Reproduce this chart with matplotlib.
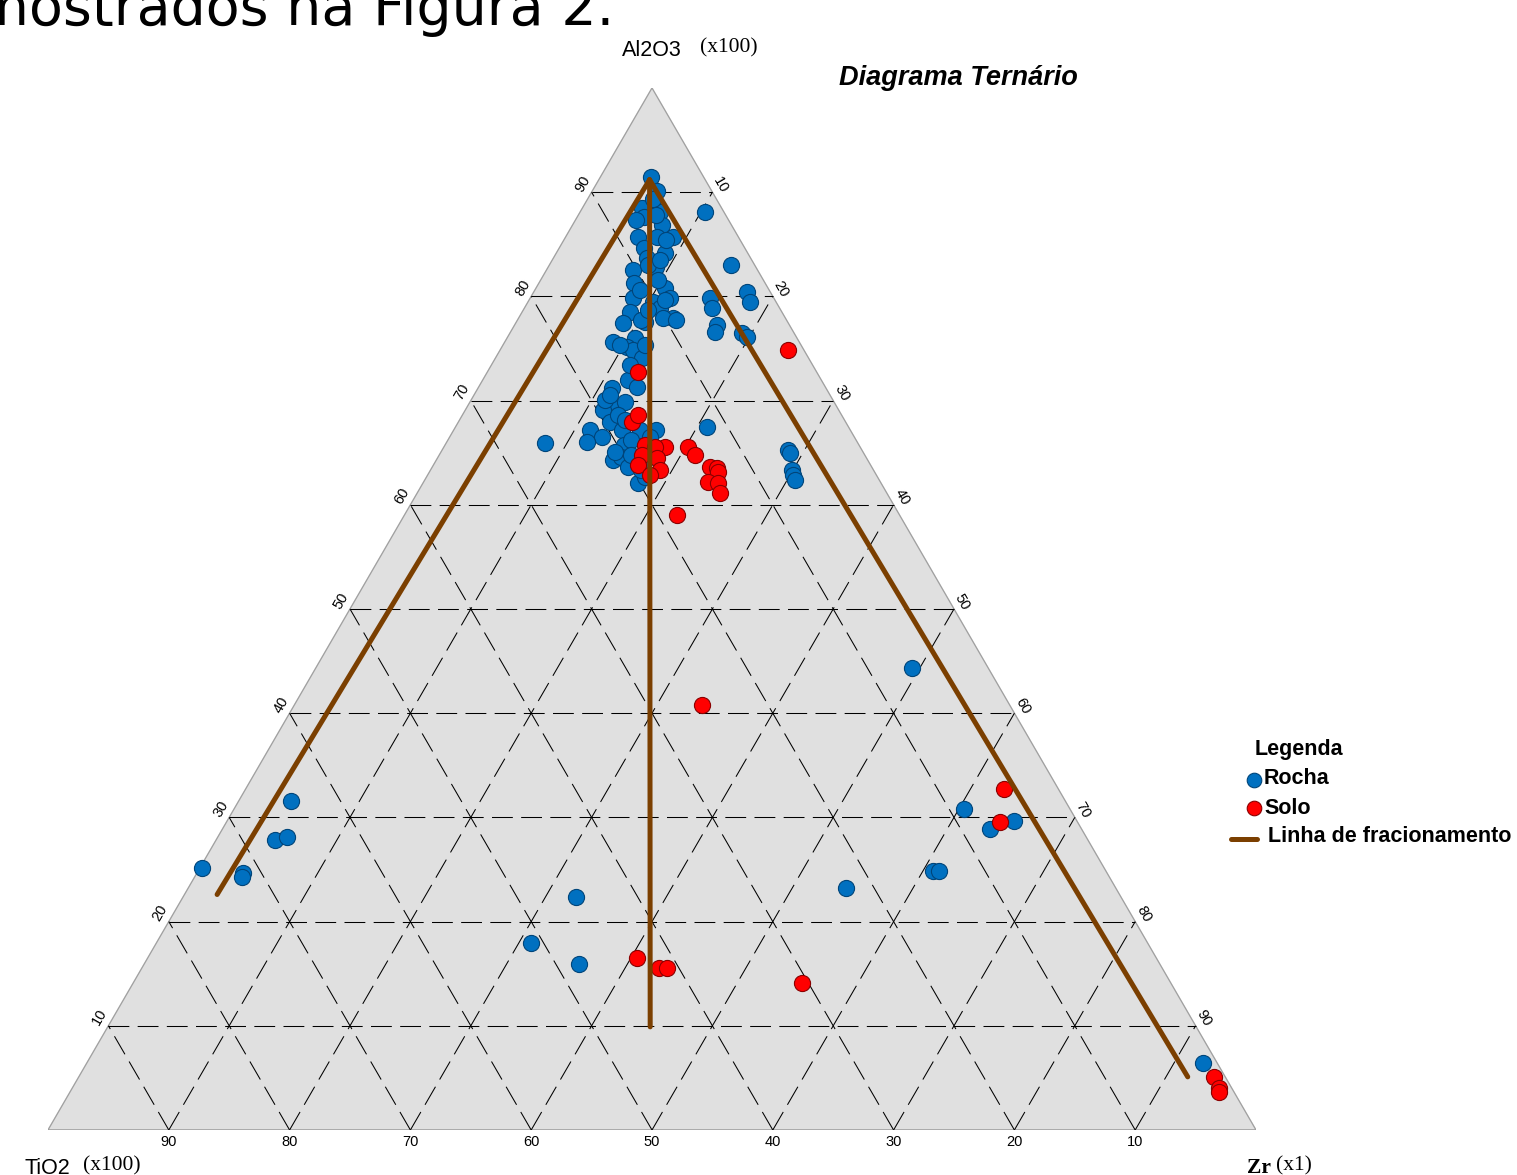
import matplotlib.pyplot as plt
import numpy as np

# Composições (%) lidas no diagrama: Al2O3 e Zr; TiO2 completa 100
rocha_al2o3 = [91.5, 90.1, 88.5, 87.6, 88.1, 86.9, 85.7, 85.7, 85.7, 84.6, 84.2, 83.7, 82.5,
               82.8, 81.3, 80.8, 79.8, 79.8, 79.5, 78.5, 78.9, 77.9, 77.4, 77.5, 77.9, 75.6,
               76.0, 88.1, 83.0, 80.4, 79.5, 79.8, 78.9, 77.3, 76.6, 76.5, 76.1, 75.1, 74.6,
               74.9, 74.1, 72.0, 71.2, 71.3, 69.6, 69.9, 69.1, 67.9, 67.2, 66.5, 66.0, 67.2,
               67.2, 67.2, 66.5, 65.7, 64.3, 64.6, 63.6, 62.1, 62.7, 65.1, 67.5, 65.9, 65.3,
               65.0, 63.3, 62.9, 62.4, 87.3, 85.4, 83.0, 80.6, 79.7, 77.7, 77.7, 75.3, 75.3,
               73.4, 70.1, 68.6, 66.2, 64.8, 63.3, 89.3, 87.8, 83.5, 81.6, 78.7, 70.5, 68.1,
               64.3,
               44.3, 31.6, 27.8, 28.1, 25.1, 24.7, 24.3, 22.4, 17.9, 15.9, 23.2, 30.8, 28.9,
               29.7, 24.9, 24.9, 6.4]
rocha_zr = [4.2, 5.4, 4.9, 5.5, 6.6, 7.4, 6.0, 7.6, 8.9, 7.0, 9.0, 7.7, 7.2,
            8.9, 7.9, 10.7, 8.5, 11.6, 10.3, 8.9, 11.2, 12.8, 8.9, 10.7, 12.0, 9.0,
            10.6, 10.3, 15.0, 17.7, 18.4, 14.9, 15.5, 16.7, 16.9, 19.2, 19.8, 10.4, 11.5,
            11.0, 12.1, 12.0, 11.1, 13.1, 11.7, 12.8, 11.4, 12.6, 11.3, 12.6, 11.6, 13.9,
            15.4, 16.7, 16.6, 14.8, 14.6, 15.1, 16.2, 17.8, 18.1, 14.4, 20.8, 8.2, 28.6,
            28.9, 29.9, 30.2, 30.6, 5.0, 8.5, 8.2, 8.7, 11.2, 13.1, 10.2, 9.7, 11.8,
            11.5, 11.1, 12.9, 15.2, 15.9, 17.4, 5.4, 6.4, 8.9, 9.7, 10.3, 11.3, 13.7,
            17.3,
            49.4, 4.3, 4.9, 5.7, 0.2, 3.8, 3.9, 32.5, 31.0, 36.0, 54.5, 60.4, 63.5,
            65.1, 60.8, 61.3, 92.4]

solo_al2o3 = [72.7, 67.9, 68.6, 65.7, 65.5, 65.5, 64.8, 64.5, 63.8, 63.3, 62.9, 65.5, 64.8,
              63.6, 63.5, 63.1, 62.2, 62.1, 61.1, 59.0, 74.9, 40.8, 16.5, 15.5, 15.5, 14.1,
              32.7, 29.6, 5.1, 4.0, 3.6]
solo_zr = [12.5, 14.4, 14.5, 16.6, 18.3, 17.5, 16.8, 18.2, 16.9, 19.0, 18.4, 20.2, 21.2,
           23.0, 23.6, 23.9, 23.5, 24.4, 25.1, 22.6, 23.8, 33.7, 40.5, 42.8, 43.5, 55.4,
           62.8, 64.0, 94.0, 94.9, 95.1]

# Linhas de fracionamento: origem comum e três extremidades (Al2O3, Zr)
frac_origem = (91.2, 4.2)
frac_fim = [(22.6, 2.7), (9.9, 44.9), (5.1, 91.8)]

niveis = [10, 20, 30, 40, 50, 60, 70, 80, 90]

H = np.sqrt(3) / 2
W_PX, H_PX = 1517, 1175


def tern(al, zr):
    al = np.asarray(al, dtype=float)
    zr = np.asarray(zr, dtype=float)
    return zr / 100 + al / 200, al / 100 * H


def fx(x):
    return x / W_PX


def fy(y):
    return 1 - y / H_PX


fig = plt.figure(figsize=(W_PX / 100, H_PX / 100), dpi=100)
fig.patch.set_facecolor('white')

# triângulo: vértice TiO2 em (48,1130) px, Zr em (1256,1130), Al2O3 em (652,88)
ax = fig.add_axes([fx(48), fy(1130), fx(1256) - fx(48), fy(88) - fy(1130)])
ax.set_xlim(0, 1)
ax.set_ylim(0, H)
ax.axis('off')

ax.fill([0, 1, 0.5], [0, 0, H], color='#e0e0e0', zorder=0)
ax.plot([0, 0.5, 1], [0, H, 0], color='#a0a0a0', lw=0.9, zorder=1)
ax.plot([0, 1], [0, 0], color='#9a9a9a', lw=1.8, zorder=1)

grid_kw = dict(color='black', lw=0.75, dashes=(20, 8), zorder=2)
for k in niveis:
    # Al2O3 constante
    x, y = tern([k, k], [0, 100 - k])
    ax.plot(x, y, **grid_kw)
    # Zr constante
    x, y = tern([0, 100 - k], [k, k])
    ax.plot(x, y, **grid_kw)
    # TiO2 constante
    x, y = tern([0, 100 - k], [100 - k, 0])
    ax.plot(x, y, **grid_kw)

tick_kw = dict(fontsize=10.5, family='Liberation Sans', color='black')
for k in niveis:
    x, y = tern(k, 0)
    ax.text(x - 0.007, y + 0.007, str(k), rotation=60, ha='center', va='center', **tick_kw)
    x, y = tern(100 - k, k)
    ax.text(x + 0.007, y + 0.006, str(k), rotation=-60, ha='center', va='center', **tick_kw)
    x, y = tern(0, 100 - k)
    ax.text(x, y - 0.004, str(k), ha='center', va='top', **tick_kw)

ax.scatter(*tern(rocha_al2o3, rocha_zr), s=135, c='#0070c0', edgecolors='#00457a',
           linewidths=0.8, zorder=3, clip_on=False)
ax.scatter(*tern(solo_al2o3, solo_zr), s=135, c='#ff0000', edgecolors='#8a0000',
           linewidths=0.8, zorder=4, clip_on=False)

for fim in frac_fim:
    x, y = tern([frac_origem[0], fim[0]], [frac_origem[1], fim[1]])
    ax.plot(x, y, color='#7b3f00', lw=3.6, solid_capstyle='round', zorder=5)

# textos em coordenadas de pixel
ov = fig.add_axes([0, 0, 1, 1])
ov.set_xlim(0, W_PX)
ov.set_ylim(H_PX, 0)
ov.axis('off')
ov.patch.set_alpha(0)

ov.text(614, 25, 'mostrados na Figura 2.', fontsize=40, family='DejaVu Sans',
        ha='right', va='baseline')

ov.text(652, 50, 'Al2O3', fontsize=15.5, family='Liberation Sans', ha='center', va='center')
ov.text(729, 48, '(x100)', fontsize=15.5, family='Liberation Serif', ha='center', va='center')
ov.text(958, 78, 'Diagrama Ternário', fontsize=19.5, family='Liberation Sans',
        weight='bold', style='italic', ha='center', va='center')

ov.text(25, 1168, 'TiO2', fontsize=15.5, family='Liberation Sans', ha='left', va='center')
ov.text(83, 1166, '(x100)', fontsize=15.5, family='Liberation Serif', ha='left', va='center')
ov.text(1247, 1168, 'Zr', fontsize=15.5, family='Liberation Serif', weight='bold',
        ha='left', va='center')
ov.text(1276, 1166, '(x1)', fontsize=15.5, family='Liberation Serif', ha='left', va='center')

# legenda
leg_kw = dict(fontsize=15.5, family='Liberation Sans', weight='bold', va='center', ha='left')
ov.text(1255, 750, 'Legenda', **leg_kw)
ov.scatter([1254], [780], s=110, c='#0070c0', edgecolors='#00457a', linewidths=0.8)
ov.text(1264, 779, 'Rocha', **leg_kw)
ov.scatter([1254], [808], s=110, c='#ff0000', edgecolors='#8a0000', linewidths=0.8)
ov.text(1264, 808, 'Solo', **leg_kw)
ov.plot([1231, 1257], [839, 839], color='#7b3f00', lw=3.6, solid_capstyle='round')
ov.text(1268, 836, 'Linha de fracionamento', **leg_kw)

fig.savefig('out.png', dpi=100)
